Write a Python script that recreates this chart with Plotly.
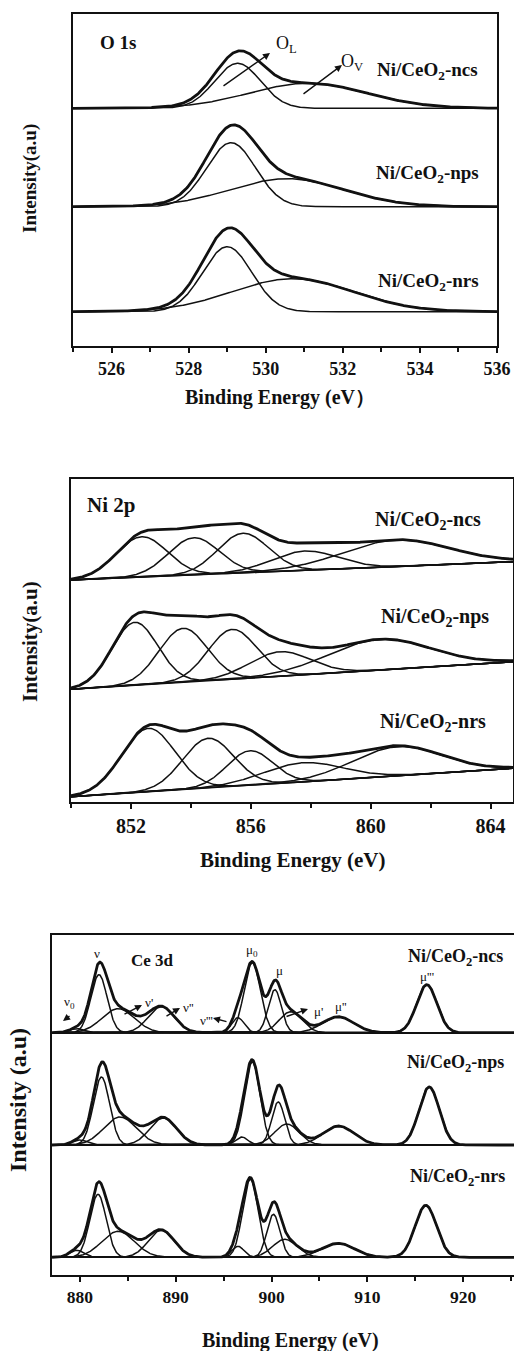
import numpy as np
import plotly.graph_objects as go

# ---------------- data ----------------
samples = ["ncs", "nps", "nrs"]

# O 1s : two fitted components per sample (O_L lattice, O_V vacancy)
o1s_offset = [237.7, 139.3, 34.3]
o1s_OL_center = [529.27, 529.10, 529.00]
o1s_OL_height = [45, 64, 65]
o1s_OL_fwhm = [1.4, 1.5, 1.5]
o1s_OV_center = [531.10, 530.55, 530.70]
o1s_OV_height = [25, 28, 33]
o1s_OV_fwhm = [3.6, 3.5, 3.7]

# Ni 2p : five fitted components on a linear background
ni_bg_left = [222.0, 112.7, 5.3]     # background at 850 eV
ni_bg_right = [240.3, 140.3, 33.7]   # background at 864.75 eV
ni_center = [[852.36, 854.10, 855.74, 857.80, 860.86],
             [852.13, 853.74, 855.38, 856.97, 860.30],
             [852.58, 854.58, 855.97, 857.74, 860.90]]
ni_height = [[40.4, 37.2, 39.6, 19.3, 26.5],
             [63.0, 54.0, 49.9, 24.5, 30.7],
             [63.4, 49.6, 34.5, 19.1, 29.0]]
ni_fwhm = [[2.0, 2.0, 2.0, 2.6, 4.2],
           [1.8, 1.9, 1.9, 2.4, 4.0],
           [2.1, 2.0, 1.8, 3.1, 3.5]]

# Ce 3d : ten fitted components (v0, v, v', v'', v''', u0, u, u', u'', u''')
ce_offset = [242.3, 130.0, 17.7]
ce_center = [[879.7, 882.00, 884.0, 888.5, 896.5, 898.0, 900.35, 902.0, 906.95, 916.20],
             [880.0, 882.26, 884.2, 888.7, 896.9, 898.0, 900.70, 901.6, 907.00, 916.45],
             [879.7, 881.90, 884.0, 888.5, 896.5, 897.8, 900.20, 901.4, 906.95, 916.10]]
ce_height = [[4, 58, 24, 26, 15, 70, 43, 21, 16, 48],
             [5, 68, 28, 27, 8, 83, 43, 21, 19, 58],
             [7, 63, 26, 27, 11, 78, 43, 18, 14, 52]]
ce_fwhm = [[1.8, 2.0, 4.0, 3.2, 1.5, 2.0, 1.6, 2.8, 3.8, 2.5],
           [1.8, 2.0, 4.0, 3.3, 1.5, 1.9, 1.6, 3.0, 3.8, 2.5],
           [1.8, 2.0, 4.0, 3.2, 1.5, 1.9, 1.6, 3.0, 4.0, 2.6]]

o1s_ticks = [526, 528, 530, 532, 534, 536]
ni_ticks = [852, 856, 860, 864]
ce_ticks = [880, 890, 900, 910, 920]

# ---------------- figure ----------------
W, H = 514, 1351
FONT = "Liberation Serif"
INK = "#111111"


def gauss(x, c, h, w):
    return h * np.exp(-4 * np.log(2) * (x - c) ** 2 / w ** 2)


def px(xp, yp):
    return xp / W, 1 - yp / H


fig = go.Figure()

ENV_W, COMP_W = 2.8, 1.5


def add_line(x, y, ax, width):
    fig.add_trace(go.Scatter(x=x, y=y, mode="lines", xaxis=ax[0], yaxis=ax[1],
                             line=dict(color=INK, width=width), hoverinfo="skip",
                             showlegend=False))


# O 1s
xo = np.linspace(525, 536, 700)
for i in range(3):
    b = np.full_like(xo, o1s_offset[i])
    gL = gauss(xo, o1s_OL_center[i], o1s_OL_height[i], o1s_OL_fwhm[i])
    gV = gauss(xo, o1s_OV_center[i], o1s_OV_height[i], o1s_OV_fwhm[i])
    add_line(xo, b + gL, ("x", "y"), COMP_W)
    add_line(xo, b + gV, ("x", "y"), COMP_W)
    add_line(xo, b + gL + gV, ("x", "y"), ENV_W)

# Ni 2p
xn = np.linspace(850, 864.75, 700)
for i in range(3):
    bg = ni_bg_left[i] + (ni_bg_right[i] - ni_bg_left[i]) * (xn - 850) / 14.75
    add_line(xn, bg, ("x2", "y2"), COMP_W)
    tot = np.zeros_like(xn)
    for c, h, w in zip(ni_center[i], ni_height[i], ni_fwhm[i]):
        g = gauss(xn, c, h, w)
        tot += g
        add_line(xn, bg + g, ("x2", "y2"), COMP_W)
    add_line(xn, bg + tot, ("x2", "y2"), ENV_W)

# Ce 3d
xc = np.linspace(877.1, 925.3, 1200)
for i in range(3):
    b = np.full_like(xc, ce_offset[i])
    add_line(xc, b, ("x3", "y3"), COMP_W)
    tot = np.zeros_like(xc)
    for c, h, w in zip(ce_center[i], ce_height[i], ce_fwhm[i]):
        g = gauss(xc, c, h, w)
        tot += g
        add_line(xc, b + g, ("x3", "y3"), COMP_W)
    add_line(xc, b + tot, ("x3", "y3"), ENV_W)


def xaxis_cfg(dom, rng, ticks, minor, size, anchor):
    return dict(domain=dom, range=rng, anchor=anchor, tickmode="array", tickvals=ticks,
                ticks="outside", ticklen=5, tickwidth=1.5, tickcolor=INK,
                minor=dict(dtick=minor, tick0=ticks[0], ticks="outside", ticklen=4,
                           tickwidth=1.5, tickcolor=INK),
                showline=True, linewidth=2, linecolor=INK, mirror=True,
                showgrid=False, zeroline=False, automargin=False,
                tickfont=dict(family=FONT, size=size, color=INK, weight="bold"))


def yaxis_cfg(dom, rng, anchor):
    return dict(domain=dom, range=rng, anchor=anchor, showticklabels=False, ticks="",
                showline=True, linewidth=2, linecolor=INK, mirror=True,
                showgrid=False, zeroline=False, automargin=False)


fig.update_layout(
    width=W, height=H, margin=dict(l=0, r=0, t=0, b=0),
    paper_bgcolor="white", plot_bgcolor="white", showlegend=False,
    font=dict(family=FONT, color=INK),
    xaxis=xaxis_cfg([73 / W, 497 / W], [525, 536], o1s_ticks, 1, 18, "y"),
    yaxis=yaxis_cfg([1 - 346 / H, 1 - 13.5 / H], [0, 332.5], "x"),
    xaxis2=xaxis_cfg([71 / W, 513 / W], [850, 864.75], ni_ticks, 2, 20, "y2"),
    yaxis2=yaxis_cfg([1 - 802 / H, 1 - 479 / H], [0, 323], "x2"),
    xaxis3=xaxis_cfg([52 / W, 1.0], [877.1, 925.3], ce_ticks, 5, 17.5, "y3"),
    yaxis3=yaxis_cfg([1 - 1275 / H, 1 - 935 / H], [0, 340], "x3"),
)

ann = []


def text(t, xp, yp, size, bold=True, xanchor="center", angle=0):
    x, y = px(xp, yp)
    ann.append(dict(text=t, x=x, y=y, xref="paper", yref="paper", showarrow=False,
                    xanchor=xanchor, yanchor="middle", textangle=angle,
                    font=dict(family=FONT, size=size, color=INK,
                              weight="bold" if bold else "normal")))


def arrow(tail, head):
    x, y = px(*head)
    ann.append(dict(text="", x=x, y=y, xref="paper", yref="paper", showarrow=True,
                    ax=tail[0] - head[0], ay=tail[1] - head[1],
                    arrowhead=2, arrowsize=1, arrowwidth=1.4, arrowcolor=INK))


def lab(s):
    return "Ni/CeO<sub>2</sub>-" + s


# O 1s panel
text("O 1s", 98, 43, 19, xanchor="left")
text(lab(samples[0]), 427, 71, 19)
text(lab(samples[1]), 427, 174, 19)
text(lab(samples[2]), 428, 282, 19)
text("O<sub>L</sub>", 286, 44, 18, bold=False)
text("O<sub>V</sub>", 352, 63, 18, bold=False)
arrow((222, 87), (270, 53))
arrow((302, 95), (342, 65))
text("Binding Energy (eV\uff09", 280, 398, 20)
text("Intensity(a.u)", 30, 179, 19, angle=-90)

# Ni 2p panel
text("Ni 2p", 85, 505, 21, xanchor="left")
text(lab(samples[0]), 428, 520, 20)
text(lab(samples[1]), 435, 617, 20)
text(lab(samples[2]), 433, 722, 20)
text("Binding Energy (eV)", 293, 860, 21)
text("Intensity(a.u)", 30, 642, 21, angle=-90)

# Ce 3d panel
text("Ce 3d", 152, 960, 17)
text(lab(samples[0]), 455, 957, 18)
text(lab(samples[1]), 455, 1063, 18)
text(lab(samples[2]), 457, 1177, 18)
text("Binding Energy (eV)", 290, 1340, 20)
text("Intensity (a.u)", 18, 1100, 24, angle=-90)

text("ν", 97, 953, 13, bold=False)
text("ν<sub>0</sub>", 69, 1002, 13, bold=False)
text("ν'", 149, 1002, 13, bold=False)
text("ν''", 188, 1007, 13, bold=False)
text("ν'''", 206, 1020, 13, bold=False)
text("μ<sub>0</sub>", 252, 950, 13, bold=False)
text("μ", 279, 970, 13, bold=False)
text("μ'", 318, 1011, 13, bold=False)
text("μ''", 341, 1006, 13, bold=False)
text("μ'''", 427, 976, 13, bold=False)
arrow((71, 1015), (63, 1021))
arrow((123, 1015), (142, 1005))
arrow((165, 1017), (180, 1008))
arrow((228, 1022), (213, 1018))
arrow((285, 1017), (308, 1009))

fig.update_layout(annotations=ann)
fig.write_html("out.html")
